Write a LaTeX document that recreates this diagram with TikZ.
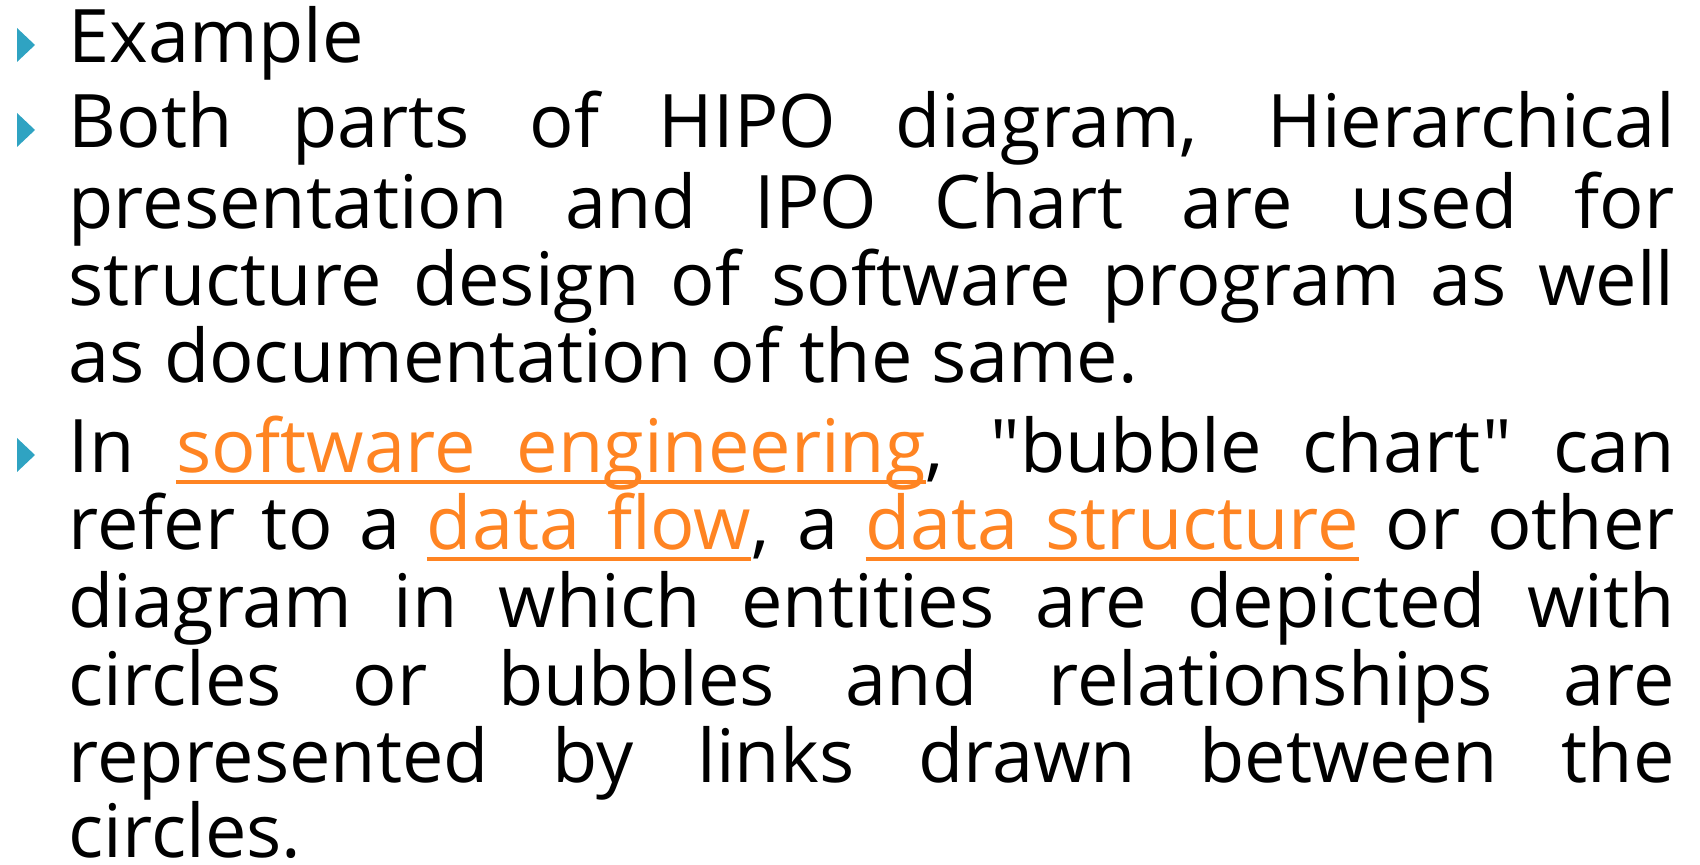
\documentclass[tikz,border=0pt]{standalone}
\usepackage{fontspec}
\newfontfamily\slidefont{Open Sans}
\usetikzlibrary{positioning}

\definecolor{bullteal}{HTML}{2FA3C2}
\definecolor{linkorange}{HTML}{FF8422}

% orange underlined link text (two words, stretchable gap)
\newcommand{\ulword}[1]{\setbox0\hbox{#1}\rlap{\rule[-3pt]{\wd0}{1pt}}\box0}
\newcommand{\ulsp}{\leaders\hrule height -2pt depth 3pt\hskip\fontdimen2\font plus\fontdimen3\font minus\fontdimen4\font}
\newcommand{\lnk}[2]{\textcolor{linkorange}{\ulword{#1}\ulsp\ulword{#2}}}

\tikzset{
  txt/.style={anchor=base west,inner sep=0pt,font=\slidefont\fontsize{21}{22}\selectfont},
  bullet/.style={fill=bullteal,draw=none}
}

\begin{document}
\begin{tikzpicture}[x=0.01cm,y=-0.01cm]
\useasboundingbox (0,0) rectangle (1700,865);
% bullets
\foreach \b in {63,148,473}
\fill[bullet] (17,\b-35) -- (35,\b-18) -- (17,\b-1) -- cycle;
% first point
\node[txt] (ex) at (68,63) {Example};
% second point
\node[txt] (l1) at (68,148) {\makebox[16.05cm][s]{Both parts of HIPO diagram, Hierarchical}};
\node[txt] (l2) at (68,229) {\makebox[16.05cm][s]{presentation and IPO Chart are used for}};
\node[txt] (l3) at (68,306) {\makebox[16.05cm][s]{structure design of software program as well}};
\node[txt] (l4) at (68,383) {as documentation of the same.};
% third point
\node[txt] (m1) at (68,473) {\makebox[16.05cm][s]{In \lnk{software}{engineering}, "bubble chart" can}};
\node[txt] (m2) at (68,550) {\makebox[16.05cm][s]{refer to a \lnk{data}{flow}, a \lnk{data}{structure} or other}};
\node[txt] (m3) at (68,628) {\makebox[16.05cm][s]{diagram in which entities are depicted with}};
\node[txt] (m4) at (68,706) {\makebox[16.05cm][s]{circles or bubbles and relationships are}};
\node[txt] (m5) at (68,783) {\makebox[16.05cm][s]{represented by links drawn between the}};
\node[txt] (m6) at (68,858) {circles.};
\end{tikzpicture}
\end{document}
